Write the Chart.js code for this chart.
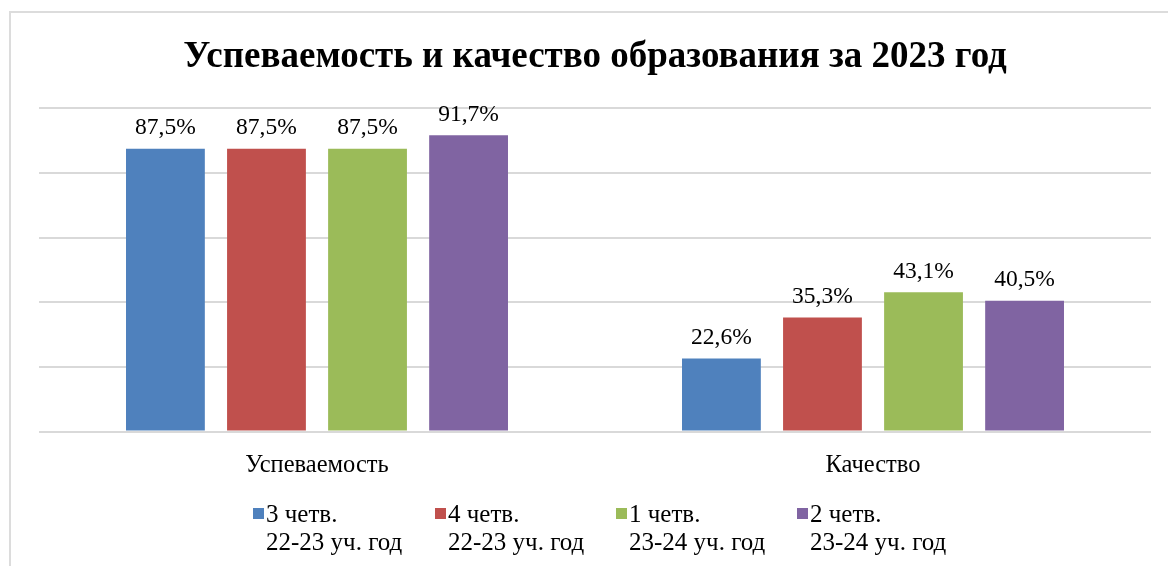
<!DOCTYPE html>
<html lang="ru">
<head>
<meta charset="utf-8">
<script src="https://cdn.jsdelivr.net/npm/chart.js@4/dist/chart.umd.min.js"></script>
<style>
  body { margin: 0; background: #fff; }
  #wrap { position: relative; width: 1168px; height: 566px; overflow: hidden; }
  #frame { position: absolute; left: 9px; top: 11px; width: 1200px; height: 600px;
    border-top: 2px solid #dcdcdc; border-left: 2px solid #dcdcdc; }
  #chartBox { position: absolute; left: 0; top: 0; width: 1168px; height: 566px; }
  #legend { position: absolute; top: 500px; left: 0; width: 1168px; height: 60px;
    font-family: "Liberation Serif", serif; font-size: 25px; color: #000; }
  .legItem { position: absolute; top: 0; line-height: 28px; }
  .legItem .box { position: absolute; left: 0; top: 8px; width: 11px; height: 11px; }
  .legItem .txt { position: absolute; left: 13px; top: 0; white-space: nowrap; }
</style>
</head>
<body>
<div id="wrap">
  <div id="frame"></div>
  <div id="chartBox"><canvas id="eduChart" width="1168" height="566"></canvas></div>
  <div id="legend"></div>
</div>
<script>
const categories = ['Успеваемость', 'Качество'];
const seriesNames = [
  ['3 четв.', '22-23 уч. год'],
  ['4 четв.', '22-23 уч. год'],
  ['1 четв.', '23-24 уч. год'],
  ['2 четв.', '23-24 уч. год']
];
const q3_2223 = [87.5, 22.6];
const q4_2223 = [87.5, 35.3];
const q1_2324 = [87.5, 43.1];
const q2_2324 = [91.7, 40.5];
const seriesColors = ['#4F81BD', '#C0504D', '#9BBB59', '#8064A2'];
const legendLeft = [253, 435, 616, 797];

const serifFont = '"Liberation Serif", serif';

// подписи значений над столбцами
const valueLabels = {
  id: 'valueLabels',
  afterDatasetsDraw(chart) {
    const ctx = chart.ctx;
    ctx.save();
    ctx.font = '23.5px ' + serifFont;
    ctx.fillStyle = '#000';
    ctx.textAlign = 'center';
    ctx.textBaseline = 'bottom';
    chart.data.datasets.forEach((ds, i) => {
      const meta = chart.getDatasetMeta(i);
      meta.data.forEach((bar, j) => {
        const txt = ds.data[j].toFixed(1).replace('.', ',') + '%';
        ctx.fillText(txt, bar.x, bar.y - 9);
      });
    });
    ctx.restore();
  }
};

function buildLegend() {
  const legend = document.getElementById('legend');
  seriesNames.forEach((name, i) => {
    const item = document.createElement('div');
    item.className = 'legItem';
    item.style.left = legendLeft[i] + 'px';
    item.innerHTML = `<div class="box" style="background:${seriesColors[i]}"></div>
      <div class="txt">${name[0]}<br>${name[1]}</div>`;
    legend.appendChild(item);
  });
}

const ctx = document.getElementById('eduChart').getContext('2d');
const seriesData = [q3_2223, q4_2223, q1_2324, q2_2324];

new Chart(ctx, {
  type: 'bar',
  data: {
    labels: categories,
    datasets: seriesData.map((d, i) => ({
      label: seriesNames[i].join(' '),
      data: d,
      backgroundColor: seriesColors[i],
      categoryPercentage: 0.727,
      barPercentage: 0.78
    }))
  },
  options: {
    responsive: false,
    animation: false,
    layout: { padding: { left: 39, right: 17, top: 0, bottom: 75 } },
    plugins: {
      legend: { display: false },
      tooltip: { enabled: false },
      title: {
        display: true,
        text: 'Успеваемость и качество образования за 2023 год',
        color: '#000',
        font: { family: serifFont, size: 37, weight: 'bold' },
        padding: { top: 35, bottom: 29 }
      }
    },
    scales: {
      x: {
        grid: { display: false },
        border: { display: false },
        ticks: { color: '#000', font: { family: serifFont, size: 24.5 }, padding: 11 }
      },
      y: {
        min: 0, max: 100,
        ticks: { display: false, stepSize: 20 },
        border: { display: false },
        grid: { color: '#d9d9d9', lineWidth: 2, drawTicks: false }
      }
    }
  },
  plugins: [valueLabels]
});

buildLegend();
</script>
</body>
</html>
